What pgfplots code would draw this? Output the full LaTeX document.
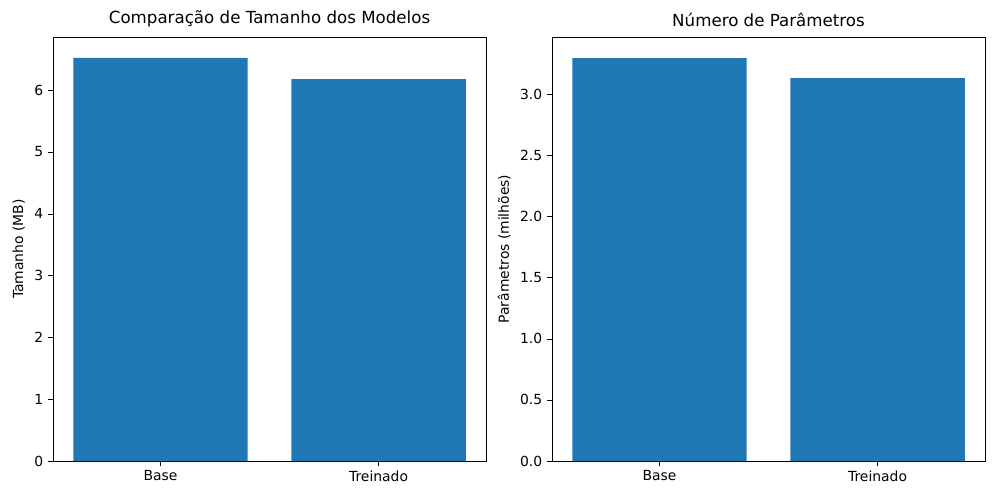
\documentclass[border=0pt]{standalone}
\usepackage{pgfplots}
\pgfplotsset{compat=1.18}
\usepackage{fontspec}
\setmainfont{DejaVu Sans}
\definecolor{mb}{HTML}{1F77B4}
\begin{document}
\begin{tikzpicture}
\useasboundingbox (0,0) rectangle (720pt,360pt);
\pgfplotsset{
  every axis/.append style={
    at={(0,0)}, anchor=south west, scale only axis,
    width=311.8pt, height=305.3pt,
    xmin=-0.493, xmax=1.493, ymin=0,
    xtick={0,1}, xticklabels={Base,Treinado},
    tick align=outside, tick style={black},
    major tick length=3.5pt,
    /pgf/number format/assume math mode=true,
    tick label style={font=\fontsize{10}{12}\selectfont},
    label style={font=\fontsize{10}{12}\selectfont},
    title style={font=\fontsize{12}{14}\selectfont, yshift=-2pt},
    xtick pos=bottom, ytick pos=left,
  }
}
\begin{axis}[at={(38.16pt,28.08pt)}, ymax=6.86,
  ytick={0,1,2,3,4,5,6},
  title={Comparação de Tamanho dos Modelos},
  ylabel={Tamanho (MB)}]
\addplot[ybar, bar width=0.8, fill=mb, draw=none] coordinates {(0,6.52) (1,6.18)};
\end{axis}
\begin{axis}[at={(397.44pt,28.08pt)}, ymax=3.467,
  ytick={0,0.5,1,1.5,2,2.5,3},
  yticklabel style={/pgf/number format/.cd, fixed, precision=1, fixed zerofill},
  title={Número de Parâmetros},
  ylabel={Parâmetros (milhões)}]
\addplot[ybar, bar width=0.8, fill=mb, draw=none] coordinates {(0,3.295) (1,3.13)};
\node[anchor=south west, font=\fontsize{10}{12}\selectfont, inner sep=1pt] at (rel axis cs:0,1) {1e6};
\end{axis}
\end{tikzpicture}
\end{document}
